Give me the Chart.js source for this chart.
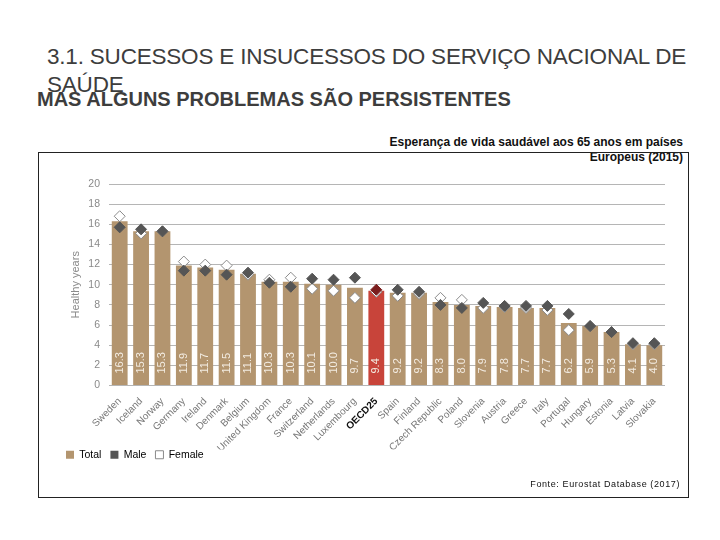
<!DOCTYPE html>
<html>
<head>
<meta charset="utf-8">
<script src="https://cdn.jsdelivr.net/npm/chart.js@4.4.1/dist/chart.umd.min.js"></script>
<style>
  body { margin: 0; background: #fff; font-family: "Liberation Sans", Arial, sans-serif; }
  #page { position: relative; width: 720px; height: 540px; overflow: hidden; }
  .title { position: absolute; left: 47px; top: 43px; font-size: 22.5px; line-height: 28px; color: #3d3d3d; letter-spacing: -0.2px; white-space: nowrap; }
  .subtitle { position: absolute; left: 37px; top: 88px; font-size: 20px; font-weight: bold; color: #3d3d3d; white-space: nowrap; }
  .caption { position: absolute; right: 37px; top: 135px; font-size: 12px; font-weight: bold; line-height: 15px; text-align: right; color: #111; }
  #frame { position: absolute; left: 38px; top: 152px; width: 651px; height: 346px; box-sizing: border-box; border: 1px solid #222; }
  #stepChart { position: absolute; left: 0; top: 0; }
  .source { position: absolute; right: 8px; bottom: 8px; font-size: 9px; letter-spacing: 0.6px; color: #111; }
</style>
</head>
<body>
<div id="page">
  <div class="title">3.1. SUCESSOS E INSUCESSOS DO SERVIÇO NACIONAL DE<br>SAÚDE</div>
  <div class="subtitle">MAS ALGUNS PROBLEMAS SÃO PERSISTENTES</div>
  <div class="caption">Esperança de vida saudável aos 65 anos em países<br>Europeus (2015)</div>
  <div id="frame">
    <canvas id="stepChart" width="649" height="344"></canvas>
    <div class="source">Fonte: Eurostat Database (2017)</div>
  </div>
</div>
<script>
const countries = ['Sweden', 'Iceland', 'Norway', 'Germany', 'Ireland', 'Denmark', 'Belgium',
    'United Kingdom', 'France', 'Switzerland', 'Netherlands', 'Luxembourg', 'OECD25', 'Spain',
    'Finland', 'Czech Republic', 'Poland', 'Slovenia', 'Austria', 'Greece', 'Italy', 'Portugal',
    'Hungary', 'Estonia', 'Latvia', 'Slovakia'];
const totalYears = [16.3, 15.3, 15.3, 11.9, 11.7, 11.5, 11.1, 10.3, 10.3, 10.1, 10.0, 9.7, 9.4,
    9.2, 9.2, 8.3, 8.0, 7.9, 7.8, 7.7, 7.7, 6.2, 5.9, 5.3, 4.1, 4.0];
const maleYears = [15.7, 15.5, 15.3, 11.4, 11.4, 11.0, 11.2, 10.2, 9.8, 10.6, 10.5, 10.7, 9.5,
    9.5, 9.3, 8.0, 7.7, 8.2, 7.9, 7.9, 7.9, 7.1, 5.9, 5.3, 4.2, 4.2];
const femaleYears = [16.8, 15.1, 15.3, 12.3, 12.0, 11.9, 11.0, 10.5, 10.7, 9.6, 9.4, 8.7, 9.3,
    8.9, 9.1, 8.7, 8.5, 7.7, 7.8, 7.7, 7.5, 5.5, 5.9, 5.3, 4.1, 4.1];
const yTicks = [0, 2, 4, 6, 8, 10, 12, 14, 16, 18, 20];

const highlight = 'OECD25';
const tan = '#b3956f';
const red = '#c8443a';
const fontFamily = '"Liberation Sans", Arial, sans-serif';

// Value labels written upward inside each bar
const barLabels = {
    id: 'barLabels',
    afterDatasetsDraw(chart) {
        const ctx = chart.ctx;
        const meta = chart.getDatasetMeta(0);
        const base = chart.scales.y.getPixelForValue(0);
        ctx.save();
        ctx.font = '11px ' + fontFamily;
        ctx.fillStyle = '#f3ece2';
        ctx.textAlign = 'left';
        ctx.textBaseline = 'middle';
        meta.data.forEach((bar, i) => {
            ctx.save();
            ctx.translate(bar.x, base - 12);
            ctx.rotate(-Math.PI / 2);
            ctx.fillText(totalYears[i].toFixed(1), 0, 0);
            ctx.restore();
        });
        ctx.restore();
    }
};

// pull the legend up, closer to the country names
const nudgeLegend = {
    id: 'nudgeLegend',
    afterLayout(chart) {
        chart.legend.top -= 9;
        chart.legend.bottom -= 9;
    }
};

const ctx = document.getElementById('stepChart').getContext('2d');
const chart = new Chart(ctx, {
    type: 'bar',
    data: {
        labels: countries,
        datasets: [{
            label: 'Total',
            data: totalYears,
            backgroundColor: countries.map(c => c === highlight ? red : tan),
            barPercentage: 0.86,
            categoryPercentage: 0.86,
            order: 3
        }, {
            type: 'line',
            label: 'Male',
            data: maleYears,
            showLine: false,
            pointStyle: 'rectRot',
            pointRadius: 5.5,
            pointBackgroundColor: countries.map(c => c === highlight ? '#7a1e1e' : '#555555'),
            pointBorderColor: countries.map(c => c === highlight ? '#7a1e1e' : '#555555'),
            pointBorderWidth: 1,
            order: 1
        }, {
            type: 'line',
            label: 'Female',
            data: femaleYears,
            showLine: false,
            pointStyle: 'rectRot',
            pointRadius: 5.5,
            pointBackgroundColor: '#ffffff',
            pointBorderColor: '#8a8a8a',
            pointBorderWidth: 1,
            order: 2
        }]
    },
    options: {
        responsive: false,
        animation: false,
        devicePixelRatio: 1,
        layout: { padding: { top: 31, right: 23, left: 18, bottom: 18 } },
        plugins: {
            tooltip: { enabled: false },
            legend: {
                position: 'bottom',
                align: 'start',
                labels: {
                    boxWidth: 8,
                    boxHeight: 8,
                    padding: 9,
                    color: '#777',
                    font: { size: 10.5, family: fontFamily },
                    generateLabels: () => [
                        { text: 'Total', fillStyle: tan, strokeStyle: tan, lineWidth: 0, datasetIndex: 0 },
                        { text: 'Male', fillStyle: '#555555', strokeStyle: '#555555', lineWidth: 0, datasetIndex: 1 },
                        { text: 'Female', fillStyle: '#ffffff', strokeStyle: '#8a8a8a', lineWidth: 1, datasetIndex: 2 }
                    ]
                }
            }
        },
        scales: {
            x: {
                grid: { display: false },
                border: { display: false },
                afterFit: (scale) => { scale.height = 64; },
                ticks: {
                    autoSkip: false,
                    maxRotation: 45,
                    minRotation: 45,
                    padding: 2,
                    color: (c) => countries[c.index] === highlight ? '#111' : '#777',
                    font: (c) => ({
                        size: 10,
                        family: fontFamily,
                        weight: countries[c.index] === highlight ? 'bold' : 'normal'
                    })
                }
            },
            y: {
                min: 0,
                max: 20,
                afterBuildTicks: (scale) => { scale.ticks = yTicks.map(v => ({ value: v })); },
                afterFit: (scale) => { scale.width = 52; },
                border: { display: false },
                grid: { color: '#b5b5b5', lineWidth: 1, drawTicks: false },
                title: {
                    display: true,
                    text: 'Healthy years',
                    color: '#8a8a8a',
                    font: { size: 11, family: fontFamily },
                    padding: { top: 12, bottom: 2 }
                },
                ticks: {
                    padding: 9,
                    color: '#8a8a8a',
                    font: { size: 10.5, family: fontFamily }
                }
            }
        }
    },
    plugins: [barLabels, nudgeLegend]
});
</script>
</body>
</html>
